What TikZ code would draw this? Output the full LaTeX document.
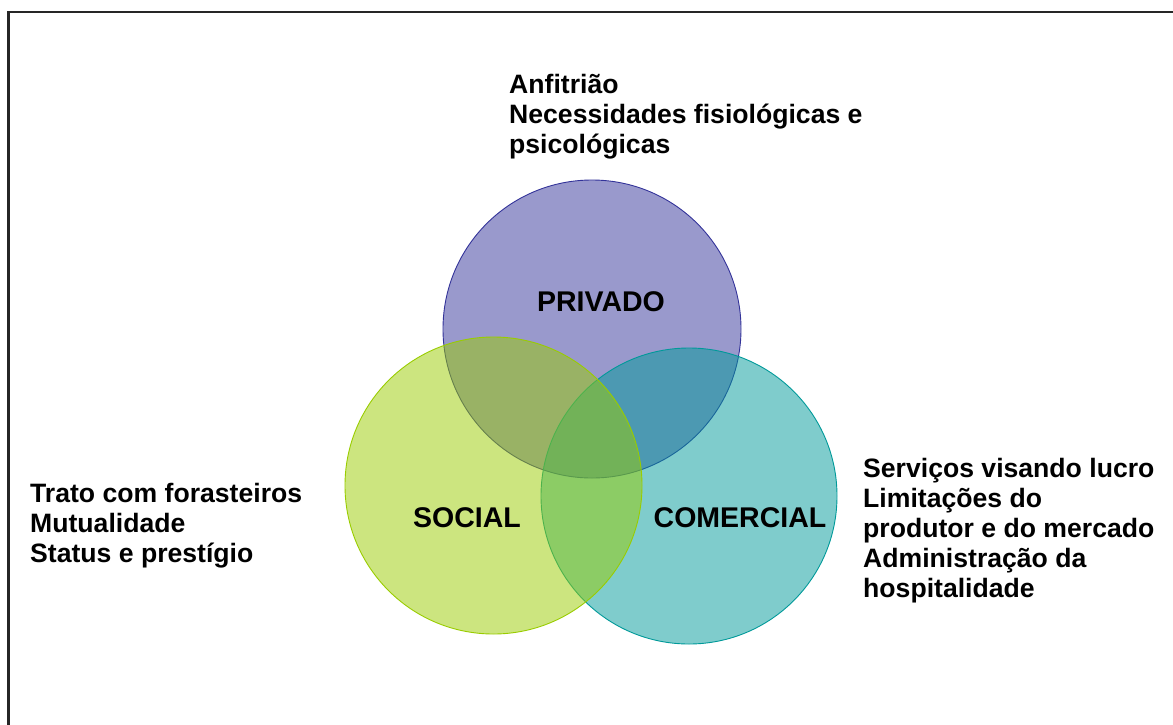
\documentclass[tikz,border=0pt]{standalone}
\usepackage{fontspec}
\setmainfont{Liberation Sans}
\definecolor{cpriv}{RGB}{51,51,153}
\definecolor{csoc}{RGB}{153,204,0}
\definecolor{ccom}{RGB}{0,153,153}
\tikzset{
  venn/.style={circle, inner sep=0pt, fill opacity=0.5, line width=0.9pt},
  lbl/.style={font=\fontsize{28.5}{32}\selectfont\bfseries, anchor=base, inner sep=0pt},
  side/.style={font=\fontsize{26.6}{30}\selectfont\bfseries, anchor=base west, align=left, inner sep=0pt},
}
\begin{document}
\begin{tikzpicture}[x=1pt,y=-1pt]
\useasboundingbox (0,0) rectangle (1173,724);
\draw[line width=2.2pt, black!85] (8.5,1000) -- (8.5,12) -- (1200,12);
\node[venn, draw=cpriv, fill=cpriv, minimum size=298pt] (priv) at (592,329) {};
\node[venn, draw=ccom, fill=ccom, minimum size=296pt] (com) at (689,496) {};
\node[venn, draw=csoc, fill=csoc, minimum size=297pt] (soc) at (493.5,485.5) {};
\node[lbl] (lpriv) at (601,311) {PRIVADO};
\node[lbl] (lsoc) at (467,527) {SOCIAL};
\node[lbl] (lcom) at (740,527) {COMERCIAL};
\node[side] (top) at (509,153) {Anfitrião\\Necessidades fisiológicas e\\psicológicas};
\node[side] (left) at (30,562) {Trato com forasteiros\\Mutualidade\\Status e prestígio};
\node[side] (right) at (863,597) {Serviços visando lucro\\Limitações do\\produtor e do mercado\\Administração da\\hospitalidade};
\end{tikzpicture}
\end{document}
